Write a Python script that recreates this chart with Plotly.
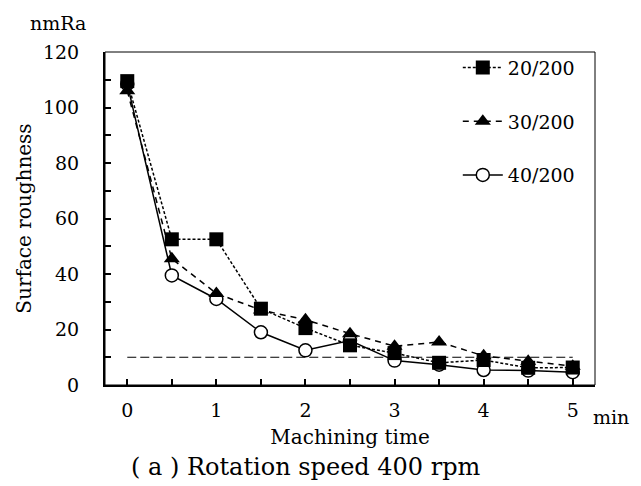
import plotly.graph_objects as go

time_min = [0, 0.5, 1, 1.5, 2, 2.5, 3, 3.5, 4, 4.5, 5]
r20 = [109.5, 52.5, 52.5, 27.5, 20.5, 14.3, 11.5, 8.0, 9.0, 6.2, 6.3]
r30 = [106.0, 45.5, 33.0, 27.0, 23.5, 18.5, 14.0, 15.5, 10.5, 8.6, 6.8]
r40 = [108.5, 39.5, 31.0, 19.0, 12.5, 16.0, 8.8, 7.3, 5.4, 5.2, 4.6]
target_level = 10
x_tick_vals = [0, 0.5, 1, 1.5, 2, 2.5, 3, 3.5, 4, 4.5, 5]
x_tick_text = ["0", "", "1", "", "2", "", "3", "", "4", "", "5"]
y_tick_vals = [0, 20, 40, 60, 80, 100, 120]

FONT = "DejaVu Serif"
TICK = 19
TITLE = 20
fig = go.Figure()

fig.add_trace(go.Scatter(
    x=[time_min[0], time_min[-1]], y=[target_level, target_level], mode="lines",
    line=dict(color="black", width=1.2, dash="9px,4px"), showlegend=False, hoverinfo="skip"))

fig.add_trace(go.Scatter(
    x=time_min, y=r40, name="40/200", mode="lines+markers", legendgroup="c", legendrank=3,
    line=dict(color="black", width=1.5),
    marker=dict(symbol="circle", size=13, color="white", line=dict(color="black", width=1.5))))
fig.add_trace(go.Scatter(
    x=time_min, y=r30, name="30/200", mode="lines+markers", legendgroup="b", legendrank=2,
    line=dict(color="black", width=1.5, dash="6px,5px"),
    marker=dict(symbol="triangle-up", size=14, color="black")))
fig.add_trace(go.Scatter(
    x=time_min, y=r20, name="20/200", mode="lines+markers", legendgroup="a", legendrank=1,
    line=dict(color="black", width=1.5, dash="3px,2px"),
    marker=dict(symbol="square", size=14, color="black")))

fig.update_layout(
    width=641, height=486,
    margin=dict(l=97, r=54, t=44, b=109),
    paper_bgcolor="white", plot_bgcolor="white",
    font=dict(family=FONT, size=TICK, color="black"),
    showlegend=True,
    legend=dict(x=0.72, y=1.01, xanchor="left", yanchor="top",
                traceorder="grouped", tracegroupgap=26, itemwidth=40,
                bgcolor="rgba(0,0,0,0)", font=dict(size=TICK, family=FONT)),
    shapes=[dict(type="rect", xref="paper", yref="paper", x0=0, x1=1, y0=0, y1=1,
                 line=dict(color="black", width=1), layer="below")],
)

fig.update_xaxes(
    range=[-0.25, 5.25], tickmode="array", tickvals=x_tick_vals, ticktext=x_tick_text,
    ticks="inside", ticklen=6, tickwidth=1.5, tickcolor="black",
    showline=True, linewidth=2, linecolor="black", showgrid=False, zeroline=False,
    ticklabelstandoff=7, tickfont=dict(size=TICK, family=FONT),
    title=dict(text="Machining time", standoff=10, font=dict(size=TITLE, family=FONT)))
fig.update_yaxes(
    range=[0, 120], tickmode="array", tickvals=y_tick_vals,
    ticks="inside", ticklen=6, tickwidth=1.5, tickcolor="black",
    minor=dict(dtick=10, ticks="inside", ticklen=6, tickwidth=1.5, tickcolor="black", showgrid=False),
    showline=True, linewidth=2, linecolor="black", showgrid=False, zeroline=False,
    ticklabelstandoff=20, tickfont=dict(size=TICK, family=FONT),
    title=dict(text="Surface roughness", standoff=6, font=dict(size=TITLE, family=FONT)))

fig.add_annotation(text="nmRa", xref="paper", yref="paper", x=-0.095, y=1.0, yshift=29,
                   xanchor="center", yanchor="middle", showarrow=False, font=dict(size=TICK, family=FONT))
fig.add_annotation(text="min", xref="x", yref="paper", x=5, y=0, xshift=18, yshift=-32,
                   xanchor="left", yanchor="middle", showarrow=False, font=dict(size=TICK, family=FONT))
fig.add_annotation(text="( a ) Rotation speed 400 rpm", xref="paper", yref="paper", x=0.41, y=0,
                   yshift=-82, xanchor="center", yanchor="middle", showarrow=False,
                   font=dict(size=24, family=FONT))

fig.write_html("out.html")
